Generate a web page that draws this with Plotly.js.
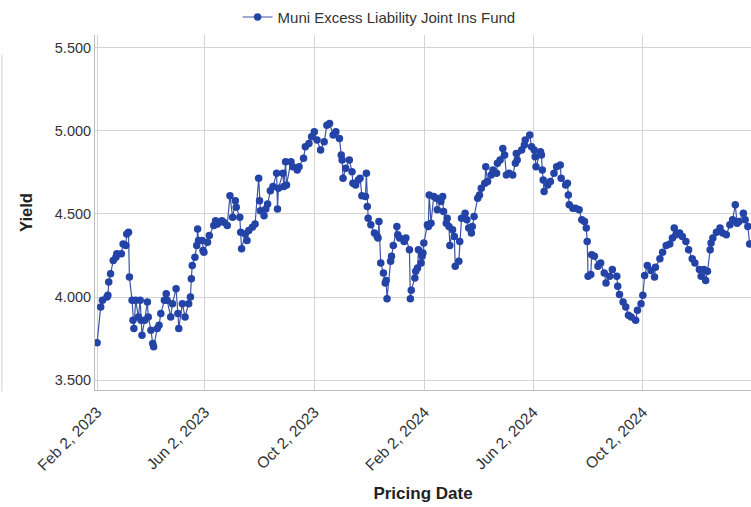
<!DOCTYPE html>
<html>
<head>
<meta charset="utf-8">
<script src="https://cdn.plot.ly/plotly-3.0.1.min.js"></script>
<style>html,body{margin:0;padding:0;background:#fff;}#chart{width:751px;height:507px;}</style>
</head>
<body>
<div id="chart"></div>
<script>
const seriesName = "Muni Excess Liability Joint Ins Fund";
const pricingDates = [
"2023-02-02","2023-02-06","2023-02-08","2023-02-13","2023-02-14","2023-02-15","2023-02-17","2023-02-20","2023-02-23","2023-02-24",
"2023-03-01","2023-03-03","2023-03-06","2023-03-07","2023-03-09","2023-03-10","2023-03-13","2023-03-14","2023-03-15","2023-03-17",
"2023-03-20","2023-03-22","2023-03-23","2023-03-24","2023-03-27","2023-03-30","2023-03-31","2023-04-03","2023-04-05","2023-04-06",
"2023-04-10","2023-04-12","2023-04-14","2023-04-18","2023-04-20","2023-04-21","2023-04-25","2023-04-27","2023-05-01","2023-05-03",
"2023-05-04","2023-05-08","2023-05-11","2023-05-15","2023-05-17","2023-05-18","2023-05-19","2023-05-22","2023-05-24","2023-05-25",
"2023-05-26","2023-05-30","2023-05-31","2023-06-01","2023-06-05","2023-06-07","2023-06-12","2023-06-14","2023-06-16","2023-06-21",
"2023-06-23","2023-06-27","2023-06-30","2023-07-03","2023-07-06","2023-07-07","2023-07-11","2023-07-12","2023-07-13","2023-07-17",
"2023-07-19","2023-07-21","2023-07-25","2023-07-28","2023-08-01","2023-08-02","2023-08-03","2023-08-07","2023-08-09","2023-08-11",
"2023-08-14","2023-08-17","2023-08-21","2023-08-22","2023-08-23","2023-08-28","2023-08-29","2023-08-31","2023-09-01","2023-09-06",
"2023-09-08","2023-09-13","2023-09-15","2023-09-20","2023-09-22","2023-09-26","2023-09-29","2023-10-02","2023-10-05","2023-10-09",
"2023-10-13","2023-10-16","2023-10-19","2023-10-23","2023-10-26","2023-10-30","2023-11-01","2023-11-02","2023-11-03","2023-11-06",
"2023-11-10","2023-11-13","2023-11-14","2023-11-17","2023-11-20","2023-11-22","2023-11-24","2023-11-28","2023-11-29","2023-11-30",
"2023-12-01","2023-12-04","2023-12-08","2023-12-11","2023-12-12","2023-12-13","2023-12-15","2023-12-18","2023-12-20","2023-12-21",
"2023-12-22","2023-12-26","2023-12-27","2023-12-29","2024-01-02","2024-01-03","2024-01-05","2024-01-10","2024-01-12","2024-01-16",
"2024-01-17","2024-01-18","2024-01-22","2024-01-23","2024-01-25","2024-01-26","2024-01-29","2024-01-30","2024-01-31","2024-02-01",
"2024-02-05","2024-02-06","2024-02-07","2024-02-09","2024-02-12","2024-02-15","2024-02-16","2024-02-20","2024-02-22","2024-02-23",
"2024-02-26","2024-02-27","2024-02-29","2024-03-01","2024-03-04","2024-03-06","2024-03-07","2024-03-11","2024-03-12","2024-03-14",
"2024-03-18","2024-03-20","2024-03-22","2024-03-25","2024-03-26","2024-03-28","2024-04-01","2024-04-03","2024-04-05","2024-04-09",
"2024-04-10","2024-04-12","2024-04-16","2024-04-18","2024-04-22","2024-04-23","2024-04-26","2024-04-29","2024-05-01","2024-05-03",
"2024-05-06","2024-05-10","2024-05-13","2024-05-14","2024-05-15","2024-05-20","2024-05-23","2024-05-24","2024-05-29","2024-05-31",
"2024-06-03","2024-06-04","2024-06-05","2024-06-10","2024-06-11","2024-06-12","2024-06-13","2024-06-14","2024-06-18","2024-06-21",
"2024-06-25","2024-06-28","2024-07-02","2024-07-03","2024-07-08","2024-07-10","2024-07-11","2024-07-12","2024-07-16","2024-07-19",
"2024-07-23","2024-07-26","2024-07-29","2024-07-31","2024-08-01","2024-08-02","2024-08-05","2024-08-06","2024-08-09","2024-08-13",
"2024-08-16","2024-08-20","2024-08-22","2024-08-26","2024-08-29","2024-09-03","2024-09-04","2024-09-06","2024-09-10","2024-09-13",
"2024-09-16","2024-09-19","2024-09-24","2024-09-26","2024-09-30","2024-10-02","2024-10-04","2024-10-07","2024-10-11","2024-10-15",
"2024-10-16","2024-10-21","2024-10-24","2024-10-28","2024-11-01","2024-11-04","2024-11-06","2024-11-08","2024-11-12","2024-11-15",
"2024-11-19","2024-11-22","2024-11-26","2024-11-29","2024-12-04","2024-12-06","2024-12-09","2024-12-11","2024-12-13","2024-12-16",
"2024-12-17","2024-12-19","2024-12-23","2024-12-27","2024-12-30","2025-01-03","2025-01-07","2025-01-10","2025-01-13","2025-01-15",
"2025-01-17","2025-01-22","2025-01-24","2025-01-27","2025-01-29"
];
const yieldValues = [
3.725,3.94,3.98,4.00,4.01,4.09,4.14,4.22,4.24,4.26,
4.26,4.32,4.31,4.38,4.39,4.12,3.98,3.86,3.81,3.98,
3.88,3.98,3.86,3.77,3.86,3.97,3.88,3.80,3.72,3.70,
3.81,3.83,3.90,3.98,4.02,3.98,3.88,3.96,4.05,3.90,
3.81,3.96,3.88,3.96,4.00,4.11,4.19,4.24,4.31,4.41,
4.34,4.34,4.28,4.27,4.33,4.37,4.43,4.46,4.44,4.46,
4.45,4.43,4.61,4.48,4.58,4.54,4.48,4.39,4.29,4.38,
4.34,4.40,4.42,4.44,4.715,4.58,4.52,4.49,4.53,4.56,
4.64,4.665,4.745,4.53,4.655,4.745,4.665,4.815,4.675,4.815,
4.785,4.765,4.785,4.835,4.905,4.925,4.965,4.995,4.945,4.885,
4.935,5.035,5.045,4.975,4.995,4.955,4.855,4.825,4.715,4.775,
4.825,4.755,4.685,4.675,4.705,4.715,4.61,4.605,4.745,4.545,
4.475,4.435,4.385,4.365,4.355,4.455,4.205,4.145,4.085,4.10,
3.99,4.215,4.245,4.31,4.425,4.375,4.355,4.335,4.355,4.285,
3.99,4.04,4.115,4.155,4.175,4.285,4.205,4.245,4.265,4.325,
4.435,4.425,4.615,4.445,4.605,4.595,4.525,4.575,4.605,4.515,
4.445,4.475,4.425,4.31,4.405,4.365,4.185,4.215,4.335,4.475,
4.505,4.465,4.415,4.385,4.425,4.485,4.595,4.615,4.655,4.685,
4.785,4.695,4.735,4.765,4.745,4.805,4.825,4.895,4.855,4.735,
4.745,4.735,4.805,4.865,4.825,4.885,4.915,4.945,4.975,4.905,
4.885,4.845,4.785,4.875,4.855,4.765,4.705,4.635,4.675,4.695,
4.745,4.785,4.795,4.715,4.675,4.685,4.615,4.555,4.535,4.535,
4.525,4.465,4.455,4.415,4.335,4.125,4.135,4.255,4.245,4.185,
4.205,4.145,4.085,4.125,4.165,4.125,4.065,4.015,3.97,3.94,
3.89,3.88,3.86,3.92,3.96,4.01,4.13,4.19,4.16,4.12,
4.18,4.23,4.27,4.31,4.32,4.355,4.415,4.375,4.385,4.365,
4.335,4.285,4.23,4.205,4.165,4.125,4.165,4.10,4.155,4.285,
4.325,4.355,4.39,4.415,4.385,4.375,4.435,4.465,4.555,4.445,
4.455,4.505,4.465,4.425,4.32
];
const xTickVals = ["2023-02-02","2023-06-02","2023-10-02","2024-02-02","2024-06-02","2024-10-02","2025-02-02"];
const yTickVals = [3.5,4.0,4.5,5.0,5.5];

const trace = {
  x: pricingDates, y: yieldValues, name: seriesName,
  type: 'scatter', mode: 'lines+markers',
  line: {color: '#3d55a6', width: 1.2},
  marker: {color: '#2343a6', size: 7.5},
  showlegend: true
};
const layout = {
  width: 751, height: 507,
  margin: {l: 95, r: 0, t: 35, b: 117},
  paper_bgcolor: '#ffffff', plot_bgcolor: '#ffffff',
  font: {family: 'Liberation Sans, Arial, sans-serif', color: '#333'},
  showlegend: true,
  legend: {orientation: 'h', x: 0.433, xanchor: 'center', y: 1.05, yanchor: 'middle',
           font: {size: 15, color: '#333'}, bgcolor: 'rgba(0,0,0,0)'},
  xaxis: {
    type: 'date', range: ['2023-01-30 16:00', '2025-01-30 12:00'],
    tickmode: 'array', tickvals: xTickVals, tickformat: '%b %-d, %Y',
    tickangle: -45, tickfont: {size: 15.5, color: '#333'},
    showgrid: true, gridcolor: '#d4d4d4', gridwidth: 1,
    showline: true, linecolor: '#bdbdbd', linewidth: 1,
    zeroline: false, ticks: 'outside', ticklen: 6, tickcolor: 'rgba(0,0,0,0)',
    title: {text: 'Pricing Date', font: {size: 17, color: '#222', weight: 'bold'}, standoff: 14}
  },
  yaxis: {
    range: [3.44, 5.578], tickmode: 'array', tickvals: yTickVals, tickformat: '.3f',
    tickfont: {size: 14.5, color: '#333'},
    showgrid: true, gridcolor: '#d4d4d4', gridwidth: 1,
    showline: true, linecolor: '#bdbdbd', linewidth: 1,
    zeroline: false, ticks: '',
    title: {text: 'Yield', font: {size: 16.5, color: '#222', weight: 'bold'}, standoff: 18}
  },
  shapes: [{type: 'line', xref: 'paper', yref: 'paper', x0: -0.142, x1: -0.142, y0: -0.005, y1: 0.945,
            line: {color: '#cfcfcf', width: 1}}]
};
Plotly.newPlot('chart', [trace], layout, {displayModeBar: false, responsive: false});
</script>
</body>
</html>
